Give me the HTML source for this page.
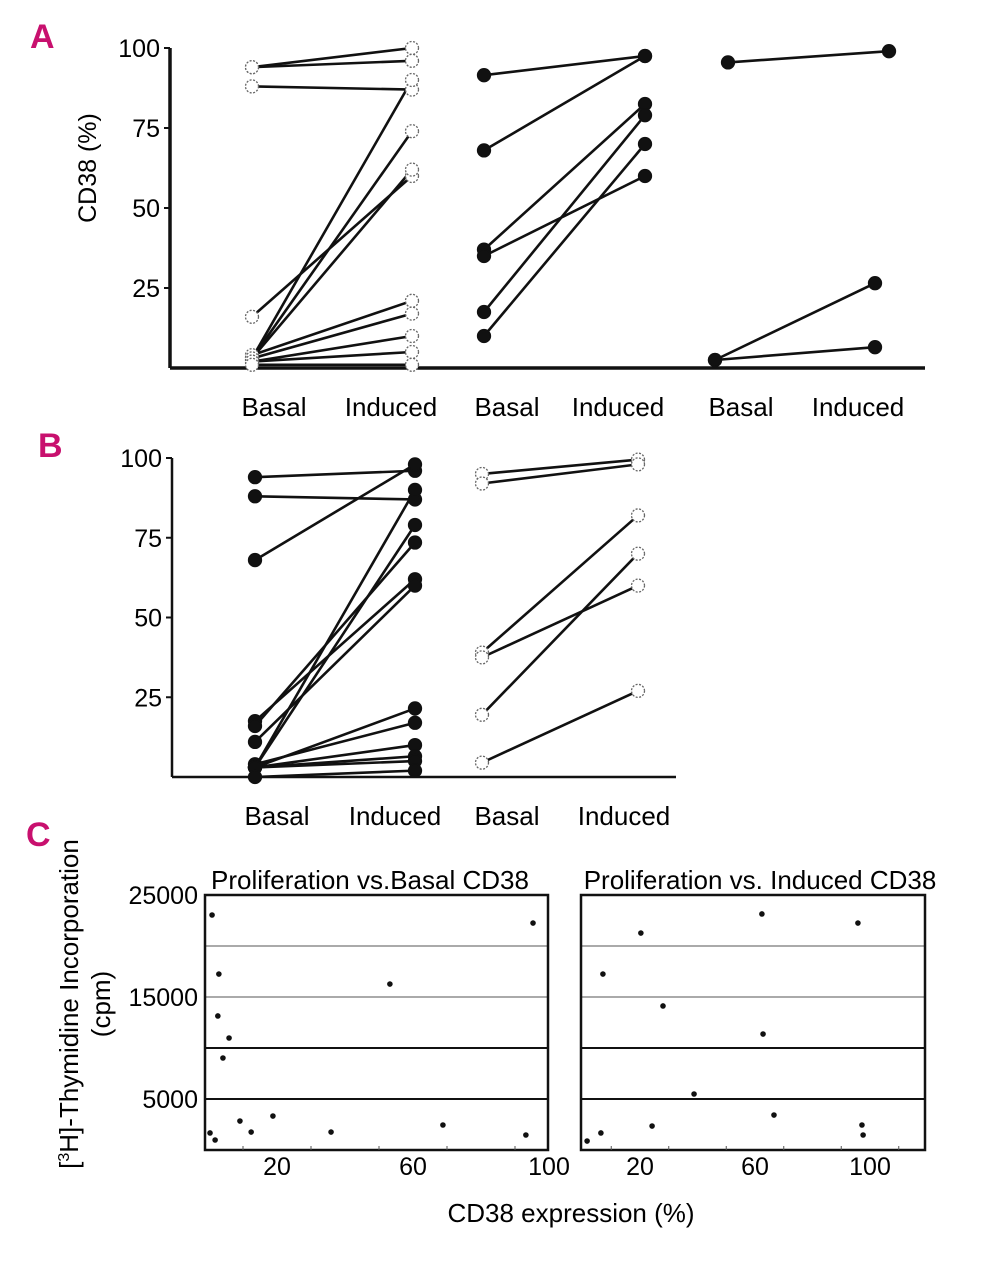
<!DOCTYPE html>
<html><head><meta charset="utf-8"><style>
body{margin:0;background:#fff}
svg{display:block;font-family:"Liberation Sans",Arial,sans-serif}
</style></head><body>
<svg id="fig" width="992" height="1280" viewBox="0 0 992 1280">
<text x="30" y="48" font-size="34" font-weight="bold" fill="#c8106e">A</text>
<text x="38" y="457" font-size="34" font-weight="bold" fill="#c8106e">B</text>
<text x="26" y="846" font-size="34" font-weight="bold" fill="#c8106e">C</text>
<text transform="translate(96,168) rotate(-90)" text-anchor="middle" font-size="25">CD38 (%)</text>
<text transform="translate(78,1004) rotate(-90)" text-anchor="middle" font-size="26">[<tspan font-size="16" dy="-9">3</tspan><tspan dy="9">H]-Thymidine Incorporation</tspan></text>
<text transform="translate(110,1004) rotate(-90)" text-anchor="middle" font-size="26">(cpm)</text>
<text x="571" y="1222" text-anchor="middle" font-size="26">CD38 expression (%)</text>
<text x="370" y="889" text-anchor="middle" font-size="26">Proliferation vs.Basal CD38</text>
<text x="760" y="889" text-anchor="middle" font-size="26">Proliferation vs. Induced CD38</text>
<g id="g"></g>
</svg>
<script>
// Panel A data
const aG1Basal=[94,94,88,16,3,3,3,4,3,2,2,1];
const aG1Induced=[100,96,87,60,90,74,62,21,17,10,5,1];
const aG2Basal=[91.5,68,37,35,17.5,10];
const aG2Induced=[97.5,97.5,82.5,60,79,70];
const aG3Basal=[95.5,2.5,2.5];
const aG3Induced=[99,26.5,6.5];
// Panel B data
const bG1Basal=[94,88,68,17.5,11,16,3,3,3,4,3,3,3,0];
const bG1Induced=[96,87,98,62,60,73.5,90,79,21.5,17,10,6.5,5,2];
const bG2Basal=[95,92,39,37.5,19.5,4.5];
const bG2Induced=[99.5,98,82,60,70,27];
const pctTicks=[25,50,75,100];
// Panel C data
const basalX=[0.9,2.9,2.6,5.9,4.1,9.1,12.4,18.8,35.9,53.2,68.8,93.2,95.3,0.3,1.8];
const basalY=[23040,17250,13140,10980,9020,2840,1760,3330,1760,16270,2450,1470,22250,1670,980];
const inducedX=[7.1,20.3,28,62.4,62.8,38.8,66.6,24.2,6.4,1.6,95.8,97.2,97.6];
const inducedY=[17250,21270,14120,23140,11370,5490,3430,2350,1670,880,22250,2450,1470];
const cpmTicks=[5000,15000,25000];
const cpmGrid=[5000,10000,15000,20000];
const expTicks=[20,60,100];

const NS="http://www.w3.org/2000/svg";
const G=document.getElementById('g');
function mk(t,a,p){const e=document.createElementNS(NS,t);for(const k in a)e.setAttribute(k,a[k]);(p||G).appendChild(e);return e;}

function pairPanel(y0,yScale,groups,name){
  const Y=v=>y0-v*yScale;
  groups.forEach((gr,gi)=>{
    gr.b.forEach((bv,i)=>{
      const l=mk('line',{x1:gr.xb,y1:Y(bv),x2:gr.xi,y2:Y(gr.ind[i]),stroke:'#111','stroke-width':2.6});
      
      
    });
    gr.b.forEach((bv,i)=>{
      [[gr.xb,bv],[gr.xi,gr.ind[i]]].forEach(([x,v])=>{
        const c=mk('circle',{cx:x,cy:Y(v),r:6.5,fill:gr.open?'#fff':'#111',stroke:gr.open?'#666':'#111','stroke-width':1.3,'stroke-dasharray':gr.open?'2 1.5':'none'});
        
        
      });
    });
  });
}
function axes(x0,y0,x1,top,yScale,name,w){
  mk('line',{x1:x0,y1:top,x2:x0,y2:y0,stroke:'#111','stroke-width':w});
  mk('line',{x1:x0,y1:y0,x2:x1,y2:y0,stroke:'#111','stroke-width':w});
  pctTicks.forEach(t=>{
    const y=y0-t*yScale;
    mk('line',{x1:x0-6,y1:y,x2:x0,y2:y,stroke:'#111','stroke-width':2});
    const tx=mk('text',{x:x0-10,y:y+9,'text-anchor':'end','font-size':25});
    tx.textContent=t;
    
    
  });
}
axes(170,368,925,48,3.2,'panel-a',3.5);
axes(172,777,676,458,3.19,'panel-b',2.5);
pairPanel(368,3.2,[
 {xb:252,xi:412,b:aG1Basal,ind:aG1Induced,open:true},
 {xb:484,xi:645,b:aG2Basal,ind:aG2Induced,open:false},
 {xb:728,xi:889,b:[aG3Basal[0]],ind:[aG3Induced[0]],open:false},
 {xb:715,xi:875,b:aG3Basal.slice(1),ind:aG3Induced.slice(1),open:false}
],'panel-a');
pairPanel(777,3.19,[
 {xb:255,xi:415,b:bG1Basal,ind:bG1Induced,open:false},
 {xb:482,xi:638,b:bG2Basal,ind:bG2Induced,open:true}
],'panel-b');
function lab(x,y,t,n){const e=mk('text',{x:x,y:y,'text-anchor':'middle','font-size':26});e.textContent=t;}
[[274,'Basal'],[391,'Induced'],[507,'Basal'],[618,'Induced'],[741,'Basal'],[858,'Induced']].forEach(([x,t])=>lab(x,416,t,'panel-a-x-label'));
[[277,'Basal'],[395,'Induced'],[507,'Basal'],[624,'Induced']].forEach(([x,t])=>lab(x,825,t,'panel-b-x-label'));

function scatter(bx0,bx1,xZero,xScale,xs,ys,name){
  const Y=v=>1150-v*51/5000;
  const X=v=>xZero+v*xScale;
  cpmGrid.forEach(v=>{
    mk('line',{x1:bx0,y1:Y(v),x2:bx1,y2:Y(v),stroke:v>=15000?'#777':'#111','stroke-width':v>=15000?1.2:2});
  });
  const r=mk('rect',{x:bx0,y:895,width:bx1-bx0,height:255,fill:'none',stroke:'#111','stroke-width':2.5});
  
  
  for(let v=10;v<=110;v+=20){const x=X(v);if(x<bx1)mk('line',{x1:x,y1:1150,x2:x,y2:1146,stroke:'#555','stroke-width':1});}
  expTicks.forEach(v=>{const e=mk('text',{x:X(v),y:1175,'text-anchor':'middle','font-size':25});e.textContent=v;
    
    });
  xs.forEach((v,i)=>{const c=mk('circle',{cx:X(v),cy:Y(ys[i]),r:2.8,fill:'#111'});
    
    });
}
scatter(205,548,209,3.4,basalX,basalY,'basal-scatter');
scatter(581,925,582.5,2.875,inducedX,inducedY,'induced-scatter');
cpmTicks.forEach(v=>{const e=mk('text',{x:198,y:1150-v*51/5000+9,'text-anchor':'end','font-size':25});e.textContent=v;
  
  });
</script>
</body></html>
